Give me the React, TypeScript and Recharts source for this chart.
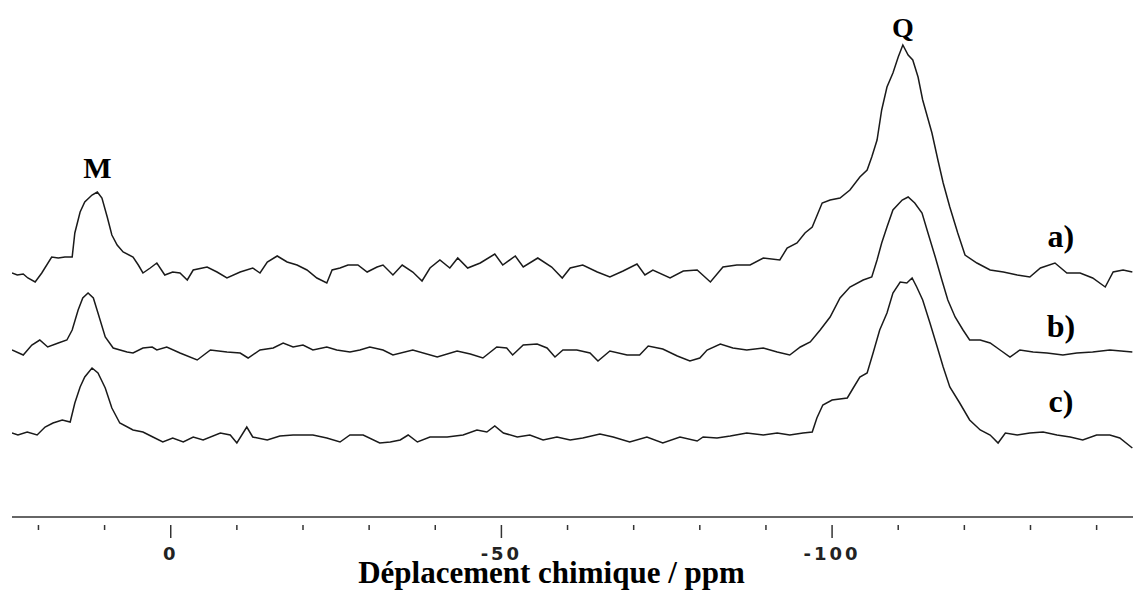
import React from "react";
import { LineChart, Line, XAxis, YAxis, ReferenceDot } from "recharts";

// Chemical shift (ppm) positions and intensities (arbitrary units) for each spectrum
const ppmA = [24.0, 23.2, 22.3, 21.6, 20.5, 19.5, 18.0, 17.0, 16.0, 14.9, 14.5, 13.7, 13.0, 11.9, 11.1, 10.4, 9.6, 8.9, 8.1, 7.2, 5.7, 4.9, 4.2, 3.1, 2.1, 0.9, -0.3, -1.4, -2.5, -3.4, -5.5, -7.0, -8.5, -10.5, -12.4, -13.5, -14.6, -16.1, -17.6, -19.1, -20.6, -22.1, -23.6, -24.4, -25.6, -26.8, -28.3, -29.7, -31.2, -32.1, -33.6, -35.0, -36.6, -38.0, -39.2, -40.7, -42.2, -43.4, -44.9, -46.8, -49.0, -50.2, -52.1, -53.3, -55.5, -57.6, -59.2, -60.4, -62.3, -64.5, -66.4, -68.4, -70.5, -71.7, -72.9, -75.5, -77.5, -79.6, -81.6, -83.5, -85.6, -87.6, -89.6, -92.1, -93.2, -94.7, -95.9, -97.0, -98.5, -99.7, -101.2, -102.7, -104.2, -105.3, -106.0, -106.8, -107.5, -108.3, -109.2, -110.0, -110.7, -111.5, -112.2, -113.0, -113.7, -115.1, -116.0, -116.8, -117.8, -119.0, -120.1, -121.9, -123.9, -125.9, -128.0, -129.9, -131.5, -133.7, -135.5, -137.5, -139.4, -141.3, -142.5, -144.0, -145.4];
const intA = [0, -2, -1, -5, -9, 0, 16, 15, 16, 16, 40, 61, 71, 78, 81, 75, 56, 38, 28, 21, 16, 8, 0, 5, 10, -2, 1, 0, -7, 3, 6, 1, -5, 1, 5, 0, 11, 17, 11, 8, 3, -5, -10, 3, 5, 8, 8, 1, 6, 8, -2, 8, 1, -8, 5, 13, 5, 15, 5, 10, 19, 8, 17, 6, 15, 6, -5, 5, 8, 1, -4, 2, 9, -2, 3, -5, 2, 3, -9, 6, 8, 8, 15, 13, 25, 30, 40, 46, 70, 73, 75, 83, 96, 103, 116, 133, 163, 186, 200, 216, 228, 218, 213, 196, 173, 140, 113, 90, 66, 40, 18, 10, 3, 1, -2, -4, 5, 10, 0, 0, -5, -14, 1, 3, 1];

const ppmB = [24.0, 22.3, 21.0, 19.8, 18.6, 17.0, 15.7, 14.9, 14.0, 13.3, 12.5, 11.7, 11.0, 9.9, 8.7, 6.6, 5.7, 4.2, 2.8, 2.1, 0.6, -1.4, -4.0, -6.0, -8.5, -10.5, -11.7, -13.5, -15.5, -17.0, -18.5, -20.0, -21.5, -23.6, -25.1, -27.1, -28.6, -30.1, -32.1, -33.6, -36.6, -40.3, -43.3, -45.3, -47.2, -49.3, -50.8, -51.7, -53.3, -55.4, -56.9, -58.1, -59.3, -61.4, -63.4, -64.6, -66.4, -69.0, -70.9, -72.2, -74.4, -76.6, -78.5, -80.0, -81.1, -83.1, -85.0, -87.1, -89.6, -91.7, -93.6, -95.2, -96.7, -98.2, -99.7, -101.2, -102.7, -104.7, -106.0, -106.8, -107.5, -108.3, -109.2, -110.6, -111.5, -112.5, -113.6, -114.5, -115.6, -116.6, -117.5, -118.6, -119.8, -120.8, -122.4, -123.9, -125.4, -126.9, -128.4, -130.4, -132.5, -134.9, -137.0, -139.4, -142.0, -145.4];
const intB = [0, -5, 5, 10, 3, 7, 10, 20, 40, 52, 57, 52, 37, 13, 2, -2, -3, 2, 3, 0, 3, -3, -10, 0, -2, -3, -8, 0, 2, 7, 3, 5, 0, 3, 0, -2, 0, 3, 0, -5, 0, -7, -1, -4, -8, 3, 2, -5, 5, 6, 2, -7, 0, 0, -3, -11, -1, -5, -5, 4, 1, -6, -11, -8, 0, 6, 2, 0, 2, -2, -5, 3, 8, 20, 33, 52, 63, 70, 73, 90, 107, 123, 140, 150, 153, 147, 137, 117, 93, 70, 50, 33, 20, 10, 10, 7, 0, -7, 0, -2, -3, -5, -3, -2, 0, -2];

const ppmC = [24.0, 23.1, 21.7, 20.2, 19.0, 17.8, 16.4, 15.2, 14.5, 13.7, 13.0, 11.9, 11.0, 9.9, 8.9, 7.7, 5.7, 4.2, 2.7, 1.2, -0.3, -1.9, -3.4, -4.9, -7.5, -9.0, -10.0, -11.5, -12.4, -14.6, -16.5, -18.5, -21.5, -23.6, -25.6, -27.1, -29.1, -31.6, -33.2, -34.7, -35.9, -37.3, -39.2, -41.8, -44.2, -46.3, -47.8, -49.0, -50.3, -52.4, -54.3, -56.3, -58.4, -60.4, -62.3, -64.9, -66.9, -69.4, -72.0, -74.4, -77.0, -79.6, -80.5, -82.6, -84.6, -87.1, -89.6, -91.7, -93.6, -95.6, -97.0, -97.7, -98.6, -100.0, -102.3, -103.2, -104.2, -105.3, -106.2, -107.2, -108.3, -109.2, -110.3, -111.3, -112.1, -112.8, -113.7, -114.8, -115.9, -116.8, -117.8, -119.3, -120.8, -122.4, -123.9, -125.1, -126.2, -128.0, -129.9, -131.9, -134.0, -136.0, -137.9, -140.0, -142.0, -143.5, -145.4];
const intC = [2, 0, 3, 0, 8, 12, 15, 13, 32, 48, 58, 67, 62, 47, 27, 12, 5, 3, -2, -7, -3, -7, -2, -5, 2, 0, -8, 8, -2, -5, -1, 0, 0, -3, -7, 0, 0, -8, -7, -5, 0, -7, -2, -2, 0, 5, 3, 9, 2, -2, 0, -5, -2, -5, -3, 1, -2, -7, -2, -8, -2, -6, -2, -3, -1, 2, 0, 2, 0, 2, 3, 17, 30, 35, 37, 47, 58, 62, 82, 105, 122, 142, 153, 152, 157, 148, 135, 112, 88, 68, 48, 32, 15, 5, 0, -8, 2, 0, 2, 3, 0, -2, -5, 0, 0, -3, -13];

// Vertical stacking offsets of the three spectra
const OFFSET_A = 244;
const OFFSET_B = 167;
const OFFSET_C = 82;

const xTicks = [20, 10, 0, -10, -20, -30, -40, -50, -60, -70, -80, -90, -100, -110, -120, -130, -140];
const majorTicks = [0, -50, -100];

const peakLabels = [
  { text: "M", ppm: 11.1, v: 350, size: 30 },
  { text: "Q", ppm: -110.7, v: 490, size: 28 },
];
const traceLabels = [
  { text: "a)", ppm: -134.6, v: 281 },
  { text: "b)", ppm: -134.6, v: 191 },
  { text: "c)", ppm: -134.6, v: 116 },
];

const xTitle = "Déplacement chimique / ppm";

const build = (ppm: number[], vals: number[], off: number) =>
  ppm.map((p, i) => ({ ppm: p, v: vals[i] + off }));

const dataA = build(ppmA, intA, OFFSET_A);
const dataB = build(ppmB, intB, OFFSET_B);
const dataC = build(ppmC, intC, OFFSET_C);

const INK = "#1a1a1a";

const Tick = (props: any) => {
  const { x, y, payload } = props;
  const major = majorTicks.includes(payload.value);
  return (
    <g>
      <line x1={x} x2={x} y1={y} y2={y + (major ? 13 : 5)} stroke="#333" strokeWidth={1.5} />
      {major && (
        <text
          x={x}
          y={y + 35}
          textAnchor="middle"
          fontFamily="DejaVu Sans, sans-serif"
          fontWeight="bold"
          fontSize={18}
          letterSpacing={3}
          fill="#222"
        >
          {payload.value === 0 ? "0" : String(payload.value)}
        </text>
      )}
    </g>
  );
};

const TitleLabel = (props: any) => {
  const vb = props.viewBox || { x: 12, y: 517, width: 1121, height: 73 };
  return (
    <text
      x={vb.x + vb.width / 2 - 21}
      y={vb.y + 66}
      textAnchor="middle"
      fontFamily="Liberation Serif, Times New Roman, serif"
      fontWeight="bold"
      fontSize={31}
      fill="#000"
    >
      {xTitle}
    </text>
  );
};

export default function App() {
  return (
    <div style={{ position: "absolute", left: 0, top: 0, width: 1133, height: 590, background: "#fff" }}>
      <LineChart width={1133} height={590} margin={{ top: 0, right: 0, left: 12, bottom: 0 }}>
        <XAxis
          dataKey="ppm"
          type="number"
          domain={[-145.5, 24]}
          reversed
          allowDataOverflow
          ticks={xTicks}
          interval={0}
          height={73}
          tickLine={false}
          axisLine={{ stroke: "#333", strokeWidth: 1.5 }}
          tick={<Tick />}
          label={<TitleLabel />}
        />
        <YAxis type="number" domain={[0, 517]} hide allowDataOverflow />
        <Line data={dataA} dataKey="v" type="linear" stroke={INK} strokeWidth={1.5} dot={false} isAnimationActive={false} />
        <Line data={dataB} dataKey="v" type="linear" stroke={INK} strokeWidth={1.5} dot={false} isAnimationActive={false} />
        <Line data={dataC} dataKey="v" type="linear" stroke={INK} strokeWidth={1.5} dot={false} isAnimationActive={false} />
        {peakLabels.map((l) => (
          <ReferenceDot
            key={l.text}
            x={l.ppm}
            y={l.v}
            r={0}
            shape={(p: any) => (
              <text
                x={p.cx}
                y={p.cy}
                textAnchor="middle"
                dominantBaseline="central"
                fontFamily="Liberation Serif, Times New Roman, serif"
                fontWeight="bold"
                fontSize={l.size}
                fill="#000"
              >
                {l.text}
              </text>
            )}
          />
        ))}
        {traceLabels.map((l) => (
          <ReferenceDot
            key={l.text}
            x={l.ppm}
            y={l.v}
            r={0}
            shape={(p: any) => (
              <text
                x={p.cx}
                y={p.cy}
                textAnchor="middle"
                dominantBaseline="central"
                fontFamily="Liberation Serif, Times New Roman, serif"
                fontWeight="bold"
                fontSize={32}
                fill="#000"
              >
                {l.text}
              </text>
            )}
          />
        ))}
      </LineChart>
    </div>
  );
}
